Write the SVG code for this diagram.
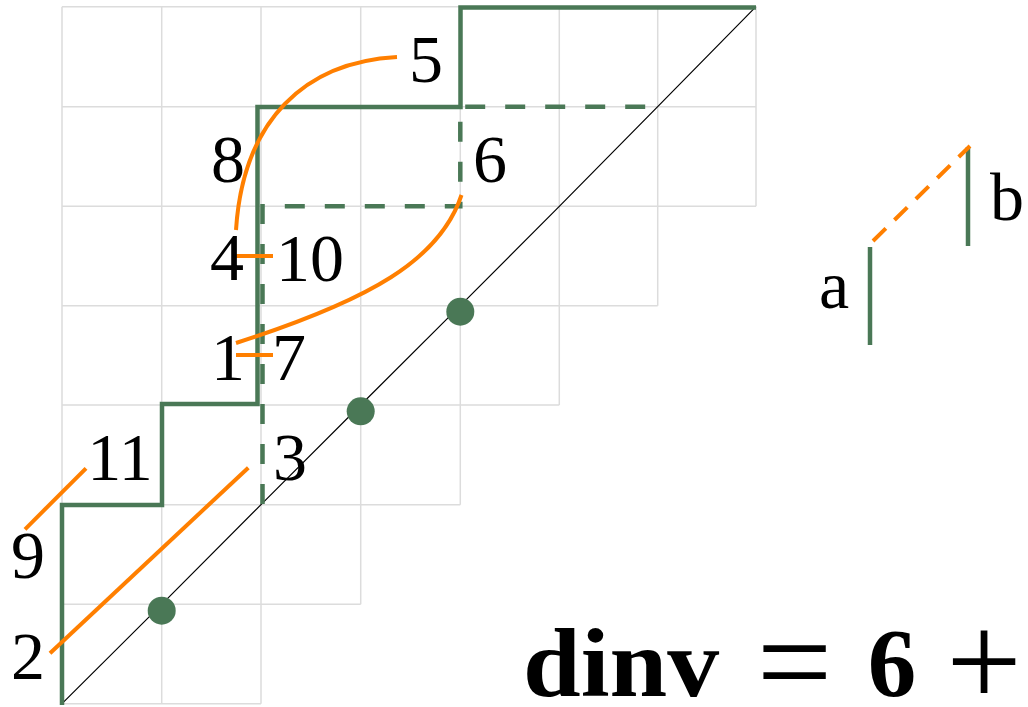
<svg xmlns="http://www.w3.org/2000/svg" width="1028" height="707" viewBox="0 0 1028 707">
<style>
.grid{stroke:#dcdcdc;stroke-width:1.5;fill:none}
.gp{stroke:#4a7856;stroke-width:4.5;fill:none;stroke-linejoin:miter}
.gd{stroke:#4a7856;stroke-width:4.5;fill:none;stroke-dasharray:20 20}
.or{stroke:#ff7f00;stroke-width:4;fill:none}
.ord{stroke:#ff7f00;stroke-width:4;fill:none;stroke-dasharray:18 12}
.dot{fill:#4a7856}
.lbl{font-family:"Liberation Serif","Times New Roman",serif;font-size:68px;fill:#000;text-anchor:middle}
.f{font-family:"Liberation Serif","Times New Roman",serif;fill:#000}
</style>
<rect width="1028" height="707" fill="#fff"/>
<g id="grid" class="grid">
<path d="M62,6.7H756M62,106.7H756M62,206.3H756M62,305.7H657.7M62,405H559.3M62,504.7H460.3M62,604.3H360.7M62,703.7H261"/>
<path d="M62,6.7V703.7M161.7,6.7V703.7M261,6.7V703.7M360.7,6.7V604.3M460.3,6.7V504.7M559.3,6.7V405M657.7,6.7V305.7M756,6.7V206.3"/>
</g>
<g id="diagonal">
<polyline points="62,703.7 161.7,604.3 261,504.7 360.7,405 460.3,305.7 559.3,206.3 657.7,106.7 756,6.7" fill="none" stroke="#000" stroke-width="1.2"/>
</g>
<g id="path">
<path class="gd" d="M262.5,504V206.3H460.3V106.7H657.7"/>
<path class="gp" d="M62,705V505H162V404H257.5V107H460.5V7.5H756"/>
</g>
<g id="dots">
<circle class="dot" cx="460.3" cy="311.7" r="14"/>
<circle class="dot" cx="360.7" cy="411.3" r="14"/>
<circle class="dot" cx="161.7" cy="610.7" r="14"/>
</g>
<g id="connectors">
<path class="or" d="M397,57C305,62 243,120 236,230"/>
<path class="or" d="M461.5,195C440,260 370,300 236,343"/>
<path class="or" d="M236,256H273"/>
<path class="or" d="M236,355H273"/>
<path class="or" d="M25,529.3L86,468.3"/>
<path class="or" d="M50,653.3L248.3,467.7"/>
</g>
<g id="labels">
<text class="lbl" x="426" y="82">5</text>
<text class="lbl" x="228" y="182">8</text>
<text class="lbl" x="490" y="182">6</text>
<text class="lbl" x="227" y="280">4</text>
<text class="lbl" x="310" y="281">10</text>
<text class="lbl" x="228" y="380">1</text>
<text class="lbl" x="289" y="380">7</text>
<text class="lbl" x="120" y="480">11</text>
<text class="lbl" x="290" y="480">3</text>
<text class="lbl" x="28" y="578">9</text>
<text class="lbl" x="28" y="679">2</text>
</g>
<g id="legend">
<path class="gp" d="M870,247V345"/>
<path class="gp" d="M968,147V246"/>
<path class="ord" d="M873,241L970,146"/>
<text class="lbl" x="834" y="308">a</text>
<text class="lbl" x="1007" y="220">b</text>
</g>
<g id="formula">
<text class="f" x="523" y="696" font-size="97" font-weight="bold" textLength="196" lengthAdjust="spacingAndGlyphs">dinv</text>
<text class="f" x="794.5" y="707" font-size="134" text-anchor="middle">=</text>
<text class="f" x="892" y="696" font-size="97" font-weight="bold" text-anchor="middle">6</text>
<text class="f" x="984" y="706" font-size="134" text-anchor="middle">+</text>
</g>
</svg>
